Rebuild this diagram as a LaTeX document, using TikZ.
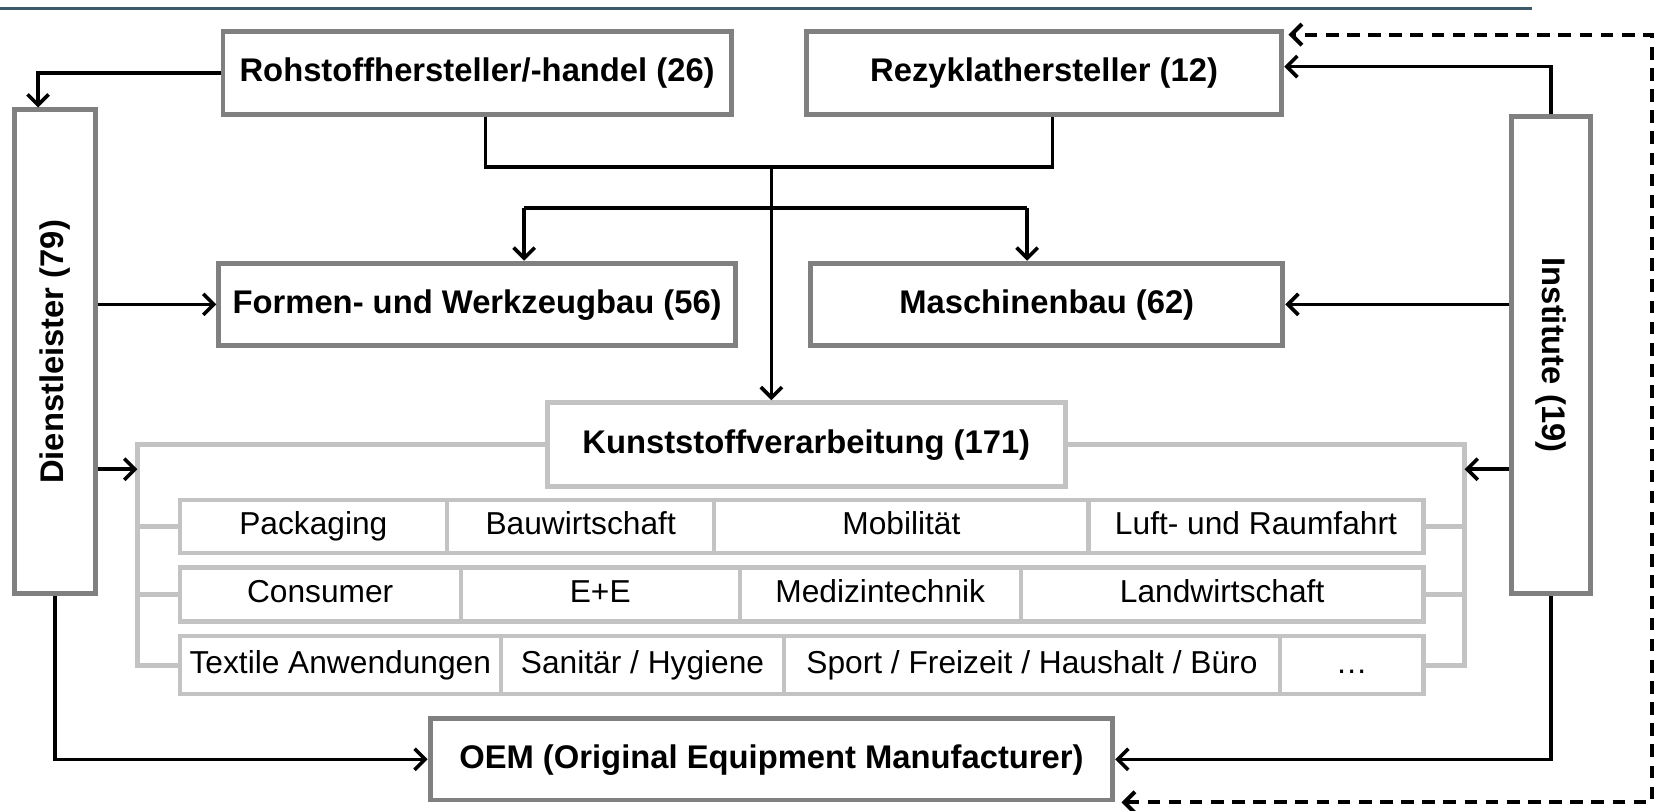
\documentclass[tikz,border=0pt]{standalone}
\usepackage{fontspec}
\setmainfont{Liberation Sans}
\usepackage{graphicx}
\usetikzlibrary{arrows.meta}
\definecolor{boxgray}{HTML}{808080}
\definecolor{framegray}{HTML}{C3C3C3}
\definecolor{rulecolor}{HTML}{3D5A6B}
\begin{document}
\begin{tikzpicture}[
    x=0.5pt, y=-0.5pt,
    box/.style={draw=boxgray, line width=2.3pt, fill=white, inner sep=0pt, text height=11.5pt, text depth=3pt, font=\fontsize{15.5}{18}\selectfont\bfseries},
    sector/.style={draw=framegray, line width=2pt, fill=white, inner sep=0pt, text height=11pt, text depth=3pt, font=\fontsize{15}{18}\selectfont},
    frame/.style={framegray, line width=2.2pt},
    conn/.style={black, line width=1.7pt},
    arr/.style={conn, -{Straight Barb[length=5pt,width=10pt]}},
    dasharr/.style={conn, line width=1.9pt, dash pattern=on 6pt off 4pt, {Straight Barb[length=5pt,width=10pt]}-{Straight Barb[length=5pt,width=10pt]}}
    ]
    \useasboundingbox (0,0) rectangle (1568,767);
    % Linie oben
    \draw[rulecolor, line width=1.6pt] (0,8) -- (1450,8);

    % Akteure
    \node[box, minimum width=240.5pt, minimum height=39pt] (roh) at (451.5,69) {Rohstoffhersteller/-handel (26)};
    \node[box, minimum width=225pt, minimum height=39pt] (rez) at (988,69) {Rezyklathersteller (12)};
    \node[box, text height=, text depth=, minimum width=38pt, minimum height=229pt] (dienst) at (52,333) {\rotatebox{90}{Dienstleister (79)}};
    \node[box, text height=, text depth=, minimum width=37.5pt, minimum height=226pt] (inst) at (1467.5,336) {\rotatebox{-90}{Institute (19)}};
    \node[box, minimum width=244.5pt, minimum height=39pt] (form) at (451.5,288) {Formen- und Werkzeugbau (56)};
    \node[box, minimum width=223.5pt, minimum height=39pt] (masch) at (990.5,288) {Maschinenbau (62)};
    \node[box, draw=framegray, minimum width=245pt, minimum height=39.5pt] (kunst) at (763,420.5) {Kunststoffverarbeitung (171)};
    \node[box, minimum width=323pt, minimum height=38.5pt] (oem) at (730,718.5) {OEM (Original Equipment Manufacturer)};

    % Branchen
    \node[sector, minimum width=126.5pt, minimum height=25pt] (s11) at (296.5,498) {Packaging};
    \node[sector, minimum width=126.5pt, minimum height=25pt] (s12) at (549.5,498) {Bauwirtschaft};
    \node[sector, minimum width=177pt, minimum height=25pt] (s13) at (853,498) {Mobilität};
    \node[sector, minimum width=158.5pt, minimum height=25pt] (s14) at (1188.5,498) {Luft- und Raumfahrt};
    \node[sector, minimum width=133pt, minimum height=25.5pt] (s21) at (303,562.5) {Consumer};
    \node[sector, minimum width=132pt, minimum height=25.5pt] (s22) at (568,562.5) {E+E};
    \node[sector, minimum width=133pt, minimum height=25.5pt] (s23) at (833,562.5) {Medizintechnik};
    \node[sector, minimum width=190.5pt, minimum height=25.5pt] (s24) at (1156.5,562.5) {Landwirtschaft};
    \node[sector, minimum width=152pt, minimum height=27.5pt] (s31) at (322,629.5) {Textile Anwendungen};
    \node[sector, minimum width=134pt, minimum height=27.5pt] (s32) at (608,629.5) {Sanitär / Hygiene};
    \node[sector, minimum width=234.5pt, minimum height=27.5pt] (s33) at (976.5,629.5) {Sport / Freizeit / Haushalt / Büro};
    \node[sector, minimum width=68pt, minimum height=27.5pt] (s34) at (1279,629.5) {…};

    % Klammer um die Branchen
    \coordinate (ftl) at (130,420.5);
    \coordinate (fbl) at (130,629.5);
    \coordinate (ftr) at (1386,420.5);
    \coordinate (fbr) at (1386,629.5);
    \draw[frame] (kunst.west) -- (ftl) -- (fbl) -- (s31.west);
    \draw[frame] (kunst.east) -- (ftr) -- (fbr) -- (s34.east);
    \foreach \n in {s11,s21} \draw[frame] (\n.west) -- (\n.west -| ftl);
    \foreach \n in {s14,s24} \draw[frame] (\n.east) -- (\n.east -| ftr);

    % Lieferkette
    \coordinate (j) at (730,158);
    \coordinate (fa) at (496,197);
    \coordinate (ma) at (972,197);
    \draw[conn] ([xshift=4pt]roh.south) |- (j) -| ([xshift=4pt]rez.south);
    \draw[arr] (j) -- (j |- kunst.north);
    \draw[conn] (fa) -- (ma);
    \draw[arr] (fa) -- (fa |- form.north);
    \draw[arr] (ma) -- (ma |- masch.north);

    % Dienstleister und Institute
    \coordinate (kl) at (130,444);
    \coordinate (kr) at (1386,444);
    \draw[arr] (roh.west) -| ([xshift=-8pt]dienst.north);
    \draw[arr] (inst.north) |- ([yshift=3pt]rez.east);
    \draw[arr] (dienst.east |- form.west) -- (form.west);
    \draw[arr] (inst.west |- masch.east) -- (masch.east);
    \draw[arr] (dienst.east |- kl) -- (kl);
    \draw[arr] (inst.west |- kr) -- (kr);
    \draw[arr] (dienst.south) |- (oem.west);
    \draw[arr] (inst.south) |- (oem.east);

    % Rueckfuehrung
    \coordinate (dx) at (1563,400);
    \draw[dasharr] ([xshift=3pt]oem.south east) -| (dx) |- ([xshift=2pt,yshift=-2.5pt]rez.north east);
\end{tikzpicture}
\end{document}
